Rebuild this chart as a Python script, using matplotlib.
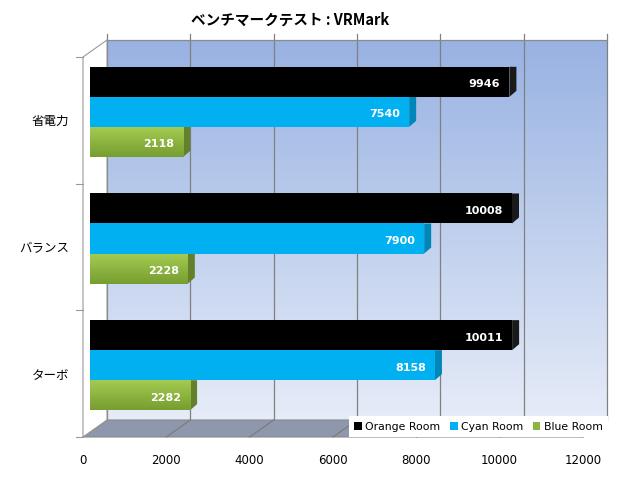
import numpy as np
import matplotlib.pyplot as plt
from matplotlib.patches import Polygon

plt.rcParams['font.family'] = ['Noto Sans CJK JP', 'DejaVu Sans']

categories = ['省電力', 'バランス', 'ターボ']
series = ['Orange Room', 'Cyan Room', 'Blue Room']
orange = [9946, 10008, 10011]
cyan = [7540, 7900, 8158]
blue = [2118, 2228, 2282]
xticks = [0, 2000, 4000, 6000, 8000, 10000, 12000]

colors = ['#000000', '#00B0F0', '#8CB441']
sides = ['#1a1a1a', '#0086B8', '#62812A']

fig = plt.figure(figsize=(6.2, 4.8), dpi=100)
ax = fig.add_axes([83 / 620, 43 / 480, 500 / 620, 380 / 480])
ax.set_xlim(0, 12000)
ax.set_ylim(-0.5, 2.5)
for s in ax.spines.values():
    s.set_visible(False)
ax.patch.set_visible(False)

# depth offset of the 3d box (24px right, 17px up) in data units
dx = 24 * 12000 / 500
dy = 17 / (380 / 3)

# back wall with gradient
grad = np.linspace(0, 1, 256).reshape(-1, 1)
top = np.array([152, 178, 226]) / 255
bot = np.array([230, 236, 248]) / 255
img = top + (bot - top) * grad[:, :, None]
ax.imshow(img, extent=(dx, 12000 + dx, -0.5 + dy, 2.5 + dy), aspect='auto',
          zorder=0, clip_on=False)
for t in xticks:
    ax.plot([t + dx, t + dx], [-0.5 + dy, 2.5 + dy + 0.05], color='#808080', lw=0.9,
            zorder=1, clip_on=False)
ax.plot([dx, 12000 + dx], [2.5 + dy, 2.5 + dy], color='#8a8a8a', lw=0.9, zorder=1, clip_on=False)

# floor
floor = Polygon([(0, -0.5), (12000, -0.5), (12000 + dx, -0.5 + dy), (dx, -0.5 + dy)],
                closed=True, facecolor='#8E97AB', edgecolor='#8a8a8a', lw=0.8,
                zorder=1, clip_on=False)
ax.add_patch(floor)
for t in xticks:
    ax.plot([t, t + dx], [-0.5, -0.5 + dy], color='#7a7a7a', lw=0.8, zorder=1, clip_on=False)

# left wall
wall = Polygon([(0, -0.5), (0, 2.5), (dx, 2.5 + dy), (dx, -0.5 + dy)], closed=True,
               facecolor='white', edgecolor='#999999', lw=0.8, zorder=1, clip_on=False)
ax.add_patch(wall)
for yb in [-0.5, 0.5, 1.5, 2.5]:
    ax.plot([-170, 0], [yb, yb], color='#999999', lw=0.8, zorder=1, clip_on=False)

# bars
ypos = np.array([2, 1, 0])
h = 0.237
shifts = [h, 0, -h]
sx = 7 * 12000 / 500
sy = 6 / (380 / 3)
left = dx / 2 - 120
green_grad = np.array([[165, 204, 82], [118, 158, 48]]) / 255
ggrad = green_grad[0] + (green_grad[1] - green_grad[0]) * np.linspace(0, 1, 64)[:, None]
for i, vals in enumerate([orange, cyan, blue]):
    yc = ypos + dy / 2 + shifts[i]
    bars = ax.barh(yc, vals, left=left, height=h, color=colors[i], zorder=3 + i,
                   label=series[i])
    for b, y, v in zip(bars, yc, vals):
        end = v + dx / 2
        b.set_width(end - left)
        side = Polygon([(end, y - h / 2), (end + sx, y - h / 2 + sy),
                        (end + sx, y + h / 2), (end, y + h / 2)], closed=True,
                       facecolor=sides[i], edgecolor='none', zorder=2)
        ax.add_patch(side)
        if i == 2:
            im = ax.imshow(ggrad[:, None, :], extent=(left, end, y - h / 2, y + h / 2),
                           aspect='auto', zorder=5.5)
            im.set_clip_path(b)
        ax.text(end - 220, y - 0.02, str(v), ha='right', va='center', color='white',
                fontsize=8, fontweight='bold', family='DejaVu Sans', zorder=10)

ax.set_xlim(0, 12000)
ax.set_ylim(-0.5, 2.5)
ax.set_yticks(ypos)
ax.set_yticklabels(categories, fontsize=9)
ax.set_xticks(xticks)
ax.set_xticklabels([str(t) for t in xticks], fontsize=8.5, family='DejaVu Sans')
ax.tick_params(axis='both', length=0)
ax.tick_params(axis='x', pad=12)
ax.tick_params(axis='y', pad=10)

leg = ax.legend(loc='lower right', bbox_to_anchor=(1.05, 0.0), ncol=3, fontsize=7.8,
                frameon=True, fancybox=False, edgecolor='none', framealpha=1,
                handlelength=0.7, handleheight=0.7, handletextpad=0.3,
                columnspacing=0.9, borderpad=0.5, borderaxespad=0)
leg.set_zorder(20)
for t in leg.get_texts():
    t.set_family('DejaVu Sans')

fig.text(290 / 620, 1 - 20 / 480, 'ベンチマークテスト : VRMark', ha='center', va='center',
         fontsize=10.5, fontweight='bold')

fig.savefig('out.png', dpi=100)
